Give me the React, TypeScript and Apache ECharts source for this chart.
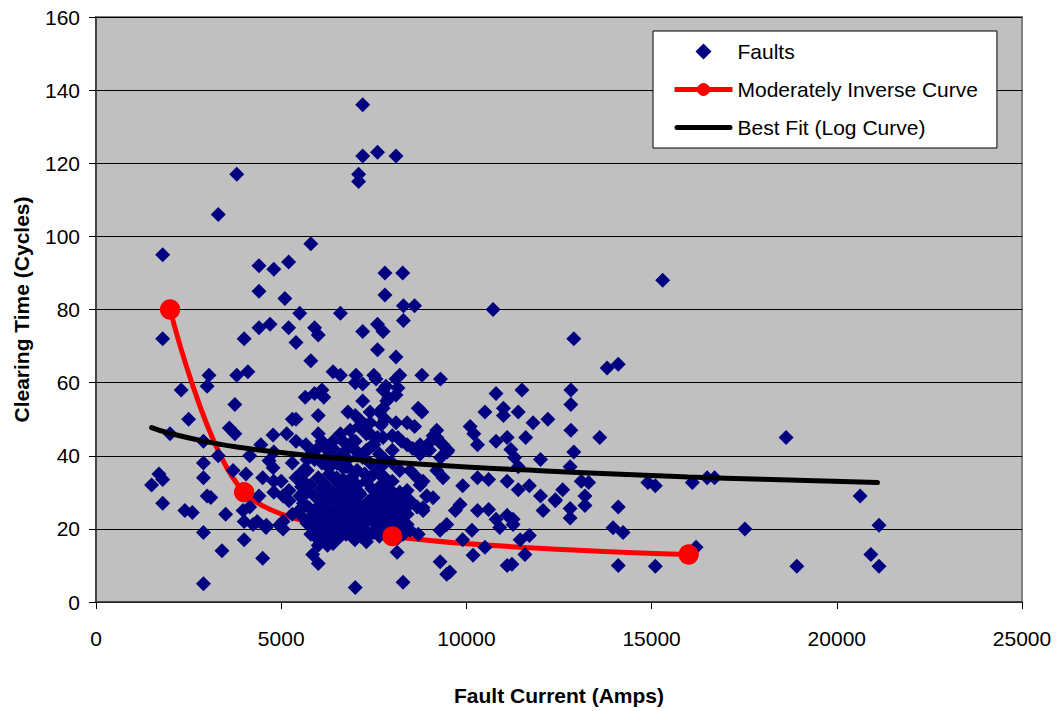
import React, { useEffect, useRef } from 'react';
import * as echarts from 'echarts';

// Fault records: [fault current (A), clearing time (cycles)]
const faultsLeft: [number, number][] = [
  [1500, 32], [1700, 35], [1800, 33.5], [1800, 27], [1800, 95], [1800, 72], [2000, 46], [2300, 58],
  [2400, 25], [2600, 24.5], [2500, 50], [2900, 5], [2900, 19], [2900, 38], [2900, 34], [2900, 44],
  [3000, 59], [3050, 62], [3000, 29], [3100, 28.6], [3300, 106], [3400, 14], [3300, 40], [3500, 24],
  [3600, 47.6], [3750, 46], [3800, 117], [3750, 54], [3800, 62], [3700, 36], [3970, 25], [4150, 26],
  [4400, 29], [4000, 22], [4350, 22], [4600, 21], [4950, 21], [5050, 22], [4000, 17], [4500, 12],
  [4000, 72], [4100, 63], [4050, 35], [4500, 34], [4800, 33], [4150, 40], [4450, 43], [4780, 45.7],
  [4800, 41], [4670, 38.6], [4780, 36.7], [5000, 33], [4800, 30], [5050, 29], [4400, 92], [4800, 91],
  [5200, 93], [4400, 85], [5100, 83], [4400, 75], [4700, 76], [5200, 75], [5500, 79], [5400, 71],
  [5900, 75], [6000, 73], [5800, 66], [5800, 98], [6600, 79], [6400, 63], [6600, 62], [5650, 56],
  [5900, 57], [6100, 58], [6150, 56], [5300, 50], [5400, 50], [6000, 51], [5150, 46], [5400, 44],
  [5670, 43], [5940, 41.6], [5850, 41], [6400, 42], [5300, 38], [5600, 36], [6100, 38], [6500, 34],
  [5400, 34], [5700, 36], [5500, 29], [5210, 30.5], [5210, 27.7], [5480, 25], [5750, 25.8], [4240, 21.2],
  [4590, 20.4], [5050, 20], [5940, 17.7], [6000, 15.5], [6000, 10.5], [5850, 13], [5800, 18.5],
];

const faultsMiddle: [number, number][] = [
  [7020, 18.5], [7000, 4], [6990, 17], [7200, 136], [7200, 122], [7600, 123], [8100, 122], [7090, 117],
  [7090, 115], [7800, 90], [8280, 90], [7800, 84], [8300, 81], [8600, 81], [8300, 77], [7200, 74],
  [7600, 76], [7750, 74], [7600, 69], [8100, 67], [8200, 62], [7020, 62], [7200, 59.6], [7560, 61],
  [7830, 59], [8100, 61], [8150, 58.5], [7500, 62], [7000, 60], [8800, 62], [9300, 61], [7750, 58],
  [7850, 55], [7200, 55], [7900, 55.8], [8100, 56.6], [6800, 52], [7400, 52], [7650, 52], [7750, 53],
  [8700, 53], [8800, 52], [8400, 49], [8600, 48], [9200, 47], [7150, 49.5], [7250, 48.5], [8100, 49],
  [8150, 45], [6860, 47], [6940, 44], [7400, 46], [7600, 45], [8000, 45.5], [8250, 44], [8400, 43],
  [8550, 42], [8950, 43], [9100, 45.5], [9300, 43.5], [9500, 41.5], [6670, 44], [7050, 41], [7300, 41.5],
  [7650, 40.5], [8000, 41.5], [8750, 40.5], [9000, 41.5], [9300, 39.5], [6770, 37], [7050, 36], [6670, 33],
  [7800, 34], [8480, 36], [8670, 34], [8830, 33], [9200, 36], [9370, 34], [6860, 30.5], [7130, 29.5],
  [6670, 28.5], [7480, 28.5], [7750, 27.7], [8070, 29.4], [8260, 27.8], [8400, 30.5], [8750, 32], [8930, 29],
  [9100, 28.5], [6860, 26], [7130, 25], [7400, 26], [7670, 25], [7940, 26], [8210, 25], [8400, 24],
  [8670, 26], [8830, 25], [7450, 22.3], [7590, 21], [7860, 21.8], [8150, 22.6], [8400, 21.2], [8480, 19.6],
  [6590, 21], [7400, 18.5], [8700, 18.5], [9290, 19.6], [9470, 21.2], [8130, 13.6], [9290, 11], [9470, 7.6],
  [9550, 8.2], [8290, 5.4], [6290, 36.7], [6670, 36.7], [7100, 40.3], [7370, 42], [7750, 45], [7750, 34],
  [7830, 32], [6670, 33.5],
];

const faultsCluster: [number, number][] = [
  [6000, 34], [6100, 31], [6200, 28], [6300, 25], [6400, 22], [6500, 20], [6600, 18], [5900, 29],
  [6000, 26], [6100, 23], [6200, 20], [6300, 17.5], [6400, 16], [6500, 27], [6600, 30], [6700, 24],
  [6800, 22], [6900, 20], [6200, 32], [6400, 30], [6300, 35], [6500, 33], [5800, 23], [5900, 21],
  [6000, 20], [6100, 18], [6250, 15.5], [6350, 23], [6450, 25], [6550, 22.5], [6700, 27], [6800, 29],
  [6900, 31], [7000, 28], [7100, 23], [7200, 21], [7300, 19.5], [7400, 24], [7500, 27], [7600, 30],
  [7700, 32], [7800, 29], [7900, 24], [8000, 22], [8100, 20], [8200, 19], [8300, 24], [8100, 27],
  [8200, 30], [8000, 33], [7900, 28], [7700, 20], [7600, 22], [7500, 19], [7300, 16.5], [7200, 26],
  [7100, 30], [6900, 34], [7000, 35.5], [7300, 33], [7500, 35], [7700, 37], [8300, 28], [8400, 26],
  [8200, 36], [8000, 38], [7800, 39], [7400, 38], [7200, 39.5], [6800, 39], [6600, 40], [6500, 38],
  [6300, 40], [6200, 42], [6100, 44], [6000, 46], [5900, 39], [5700, 39], [5600, 33], [5700, 30],
  [5600, 27], [5800, 32], [6400, 44], [6600, 46], [6800, 42], [7000, 44], [7100, 48], [7300, 46],
  [7500, 43], [7700, 48.5], [7800, 50], [7400, 49], [7000, 51], [6200, 24], [6600, 26], [7000, 22],
  [7800, 24], [8200, 27], [6300, 29], [6100, 27], [7050, 32], [7600, 26],
  [5700, 21.5], [5900, 25], [6050, 22], [6150, 29.5], [6250, 21.5], [6350, 19], [6450, 18], [6550, 24.5],
  [6650, 20], [6750, 18.5], [6850, 24], [6950, 26.5], [7050, 20], [7150, 18], [7250, 23.5], [7350, 27.5],
  [7450, 31], [7550, 23.5], [7650, 18], [7750, 22.5], [7850, 26.5], [7950, 19.5], [8050, 24.5], [8150, 17.5],
  [8250, 22], [8350, 20], [5300, 24], [5600, 23], [5550, 31.5], [6750, 31.5], [7250, 35], [7900, 31],
];

const faultsRight: [number, number][] = [
  [10720, 80], [12900, 72], [13800, 64], [14100, 65], [15300, 88], [10800, 57], [11500, 58], [12820, 58],
  [12820, 54], [10500, 52], [11000, 53], [11000, 51], [11400, 52], [11800, 49], [12200, 50], [10100, 48],
  [10200, 46], [10300, 43], [10800, 44], [11100, 45], [11200, 41.7], [11600, 45], [12820, 47], [13600, 45],
  [12000, 39], [12900, 41], [12800, 37], [11300, 39.5], [11400, 37], [9200, 45], [9370, 43], [9480, 41],
  [8750, 43], [8960, 41.7], [10300, 34], [10600, 33.5], [9900, 31.8], [8930, 29], [11100, 33], [11400, 30.7],
  [11700, 31.8], [12000, 29], [12400, 28], [12600, 30.7], [13100, 33], [13300, 32.7], [13200, 29], [14900, 32.7],
  [15100, 31.8], [16100, 32.7], [16500, 34], [16700, 34], [9830, 26.7], [9700, 25], [8830, 25.8], [8480, 27.7],
  [10300, 25], [10600, 25.3], [10800, 22.6], [11100, 23.7], [11260, 22.6], [12070, 25], [12400, 27.7], [12800, 23],
  [12800, 25.6], [13200, 26.4], [14100, 26], [13960, 20.3], [14230, 19], [8290, 18.5], [9900, 17], [10150, 19.6],
  [10500, 15], [10900, 20.4], [11260, 21.2], [11450, 17], [11700, 18.2], [11580, 13], [10180, 12.8], [11100, 10],
  [11230, 10.3], [14100, 10], [15100, 9.8], [16200, 15], [18630, 45], [20630, 29], [21140, 21], [17520, 20],
  [18920, 9.8], [20920, 13], [21140, 9.8],
];

const faults = [...faultsLeft, ...faultsMiddle, ...faultsCluster, ...faultsRight];

// Moderately inverse relay curve
const miCurrent = [2000, 4000, 8000, 16000];
const miTime = [80, 30, 18, 13];

// Best fit (log curve)
const fitCurrent = [1500, 2000, 3000, 4000, 5000, 6000, 8000, 10000, 12000, 14000, 16000, 18000, 21100];
const fitTime = [47.7, 46.1, 43.8, 42.1, 40.9, 39.8, 38.2, 36.9, 35.9, 35.0, 34.2, 33.55, 32.65];

const FONT = '"Liberation Sans", Arial, sans-serif';

export default function App() {
  const ref = useRef<HTMLDivElement>(null);
  useEffect(() => {
    if (!ref.current) return;
    const chart = echarts.init(ref.current, undefined, { renderer: 'svg' });
    const miData = miCurrent.map((x, i) => [x, miTime[i]]);
    const fitData = fitCurrent.map((x, i) => [x, fitTime[i]]);
    chart.setOption({
      animation: false,
      backgroundColor: '#ffffff',
      textStyle: { fontFamily: FONT },
      grid: {
        left: 96,
        top: 17,
        right: 42,
        bottom: 106,
        show: true,
        backgroundColor: '#C0C0C0',
        borderColor: '#808080',
        borderWidth: 2,
      },
      legend: {
        data: [
          { name: 'Faults', icon: 'path://M8,0 L16,8 L8,16 L0,8 Z' },
          { name: 'Moderately Inverse Curve', lineStyle: { width: 5 } },
          {
            name: 'Best Fit (Log Curve)',
            icon: 'path://M2.5,0 L55.5,0 A2.5,2.5 0 0 1 55.5,5 L2.5,5 A2.5,2.5 0 0 1 2.5,0 Z',
          },
        ],
        orient: 'vertical',
        left: 653,
        top: 31,
        itemWidth: 58,
        itemHeight: 16,
        itemGap: 17,
        symbolKeepAspect: true,
        padding: [10, 19, 10, 19],
        backgroundColor: '#ffffff',
        borderColor: '#000000',
        borderWidth: 1,
        borderRadius: 0,
        selectedMode: false,
        textStyle: { fontFamily: FONT, fontSize: 21, color: '#000000' },
      },
      xAxis: {
        type: 'value',
        min: 0,
        max: 25000,
        interval: 5000,
        name: 'Fault Current (Amps)',
        nameLocation: 'middle',
        nameGap: 83,
        nameTextStyle: { fontFamily: FONT, fontSize: 21, fontWeight: 'bold', color: '#000000' },
        axisLine: { show: true, onZero: false, lineStyle: { color: '#333333', width: 1.5 } },
        axisTick: { show: true, inside: false, length: 7, lineStyle: { color: '#000000' } },
        axisLabel: {
          fontFamily: FONT,
          fontSize: 21,
          color: '#000000',
          margin: 26,
          formatter: (v: number) => String(v),
        },
        splitLine: { show: false },
      },
      yAxis: {
        type: 'value',
        min: 0,
        max: 160,
        interval: 20,
        name: 'Clearing Time (Cycles)',
        nameLocation: 'middle',
        nameGap: 64,
        nameRotate: 90,
        nameTextStyle: { fontFamily: FONT, fontSize: 21, fontWeight: 'bold', color: '#000000' },
        axisLine: { show: true, lineStyle: { color: '#333333', width: 1.5 } },
        axisTick: { show: true, inside: false, length: 7, lineStyle: { color: '#000000' } },
        axisLabel: {
          fontFamily: FONT,
          fontSize: 21,
          color: '#000000',
          margin: 16,
          formatter: (v: number) => String(v),
        },
        splitLine: { show: true, lineStyle: { color: '#000000', width: 1 } },
      },
      series: [
        {
          name: 'Moderately Inverse Curve',
          type: 'line',
          data: miData,
          smooth: 0.3,
          symbol: 'circle',
          symbolSize: 20,
          lineStyle: { color: '#FF0000', width: 5 },
          itemStyle: { color: '#FF0000' },
          z: 1,
          silent: true,
        },
        {
          name: 'Faults',
          type: 'scatter',
          data: faults,
          symbol: 'diamond',
          symbolSize: 15,
          itemStyle: { color: '#000080', opacity: 1 },
          z: 2,
          silent: true,
        },
        {
          name: 'MI markers',
          type: 'scatter',
          data: miData,
          symbol: 'circle',
          symbolSize: 20,
          itemStyle: { color: '#FF0000', opacity: 1 },
          z: 3,
          silent: true,
        },
        {
          name: 'Best Fit (Log Curve)',
          type: 'line',
          data: fitData,
          smooth: true,
          symbol: 'none',
          lineStyle: { color: '#000000', width: 5, cap: 'round' },
          itemStyle: { color: '#000000' },
          z: 4,
          silent: true,
        },
      ],
    });
    return () => chart.dispose();
  }, []);
  return (
    <div
      ref={ref}
      style={{ position: 'fixed', left: 0, top: 0, width: 1064, height: 711 }}
    />
  );
}
